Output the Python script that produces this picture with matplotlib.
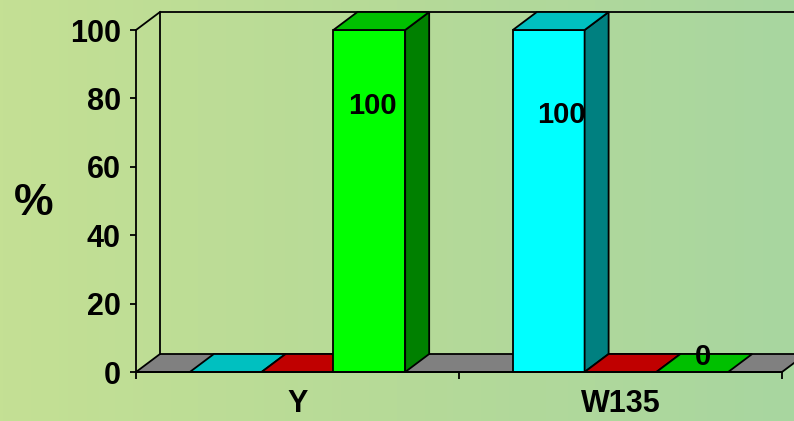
import numpy as np
import matplotlib
matplotlib.use("Agg")
import matplotlib.pyplot as plt
from matplotlib.patches import Polygon
from matplotlib.colors import LinearSegmentedColormap

plt.rcParams['font.family'] = ['Liberation Sans', 'DejaVu Sans']
plt.rcParams['font.weight'] = 'bold'

# ---- data ----
categories = ["Y", "W135"]
series_names = ["cyan", "red", "green"]
values = {
    "cyan":  [0, 100],
    "red":   [0, 0],
    "green": [100, 0],
}
y_ticks = [0, 20, 40, 60, 80, 100]
y_label = "%"
# data labels shown: (category index, series name, text)
data_labels = [(0, "green", "100"), (1, "cyan", "100"), (1, "green", "0")]

# ---- style ----
front_col = {"cyan": "#00FFFF", "red": "#FF0000", "green": "#00FF00"}
side_col = {"cyan": "#008080", "red": "#800000", "green": "#008000"}
top_col = {"cyan": "#00C0C0", "red": "#C00000", "green": "#00C000"}
floor_col = "#808080"
label_offsets_px = [(3, -76), (13, -85), (11, 15)]

W, H, DPI = 794, 421, 100
fig = plt.figure(figsize=(W / DPI, H / DPI), dpi=DPI)

# background gradient
bg = fig.add_axes([0, 0, 1, 1], zorder=-10)
cmap = LinearSegmentedColormap.from_list("bg", ["#c4e094", "#b6da98", "#a8d6a0"])
bg.imshow(np.linspace(0, 1, 256)[None, :], aspect="auto", cmap=cmap, extent=[0, 1, 0, 1])
bg.axis("off")

# front plane of the 3D plot
x_left, x_right, y_bot, y_top = 136, 782, 372, 30
ax = fig.add_axes([x_left / W, (H - y_bot) / H, (x_right - x_left) / W, (y_bot - y_top) / H])
ax.set_facecolor("none")
ncat = len(categories)
ax.set_xlim(0, ncat)
ax.set_ylim(0, 100)

# depth offset (pixels -> data units)
DX_PX, DY_PX = 24, 18
dx = DX_PX / (x_right - x_left) * ncat
dy = DY_PX / (y_bot - y_top) * 100

lw = 1.3
kw = dict(edgecolor="black", linewidth=lw, clip_on=False, joinstyle="miter")

# floor
ax.add_patch(Polygon([(0, 0), (ncat, 0), (ncat + dx, dy), (dx, dy)], facecolor=floor_col, zorder=1, **kw))
# walls
ax.plot([dx, dx, ncat + 0.2], [dy, 100 + dy, 100 + dy], color="black", lw=lw, clip_on=False, zorder=1)
ax.plot([0, dx], [100, 100 + dy], color="black", lw=lw, clip_on=False, zorder=1)

nser = len(series_names)
gap = 1.5
w = 1.0 / (nser + gap)
z = 2
bar_pos = {}
for i in range(ncat):
    for j, s in enumerate(series_names):
        v = values[s][i]
        x0 = i + gap * w / 2 + j * w
        x1 = x0 + w
        bar_pos[(i, s)] = ((x0 + x1) / 2, v)
        if v > 0:
            ax.add_patch(Polygon([(x0, 0), (x1, 0), (x1, v), (x0, v)], facecolor=front_col[s], zorder=z, **kw))
            ax.add_patch(Polygon([(x1, 0), (x1 + dx, dy), (x1 + dx, v + dy), (x1, v)], facecolor=side_col[s], zorder=z, **kw))
        ax.add_patch(Polygon([(x0, v), (x1, v), (x1 + dx, v + dy), (x0 + dx, v + dy)], facecolor=top_col[s], zorder=z, **kw))
        z += 1

for (i, s, txt), (ox, oy) in zip(data_labels, label_offsets_px):
    xc, v = bar_pos[(i, s)]
    ax.annotate(txt, (xc, v), xytext=(ox, oy), textcoords="offset pixels",
                ha="center", va="center", fontsize=21, fontweight="bold", zorder=50)

# axes
for sp in ["top", "right"]:
    ax.spines[sp].set_visible(False)
for sp in ["left", "bottom"]:
    ax.spines[sp].set_linewidth(lw)
    ax.spines[sp].set_zorder(40)
ax.set_yticks(y_ticks)
ax.set_yticklabels([str(t) for t in y_ticks])
ax.tick_params(axis="y", length=4, width=lw, pad=7, labelsize=22)
ax.set_xticks(range(ncat + 1))
ax.set_xticklabels([])
ax.set_xticks([i + 0.5 for i in range(ncat)], minor=True)
ax.set_xticklabels(categories, minor=True)
ax.tick_params(axis="x", which="major", length=5, width=lw)
ax.tick_params(axis="x", which="minor", length=0, pad=12, labelsize=22)
for t in ax.get_yticklabels() + ax.get_xticklabels(minor=True):
    t.set_fontweight("bold")

fig.text(34 / W, 1 - 203 / H, y_label, fontsize=32, fontweight="bold", ha="center", va="center")

fig.savefig("out.png", dpi=DPI)
